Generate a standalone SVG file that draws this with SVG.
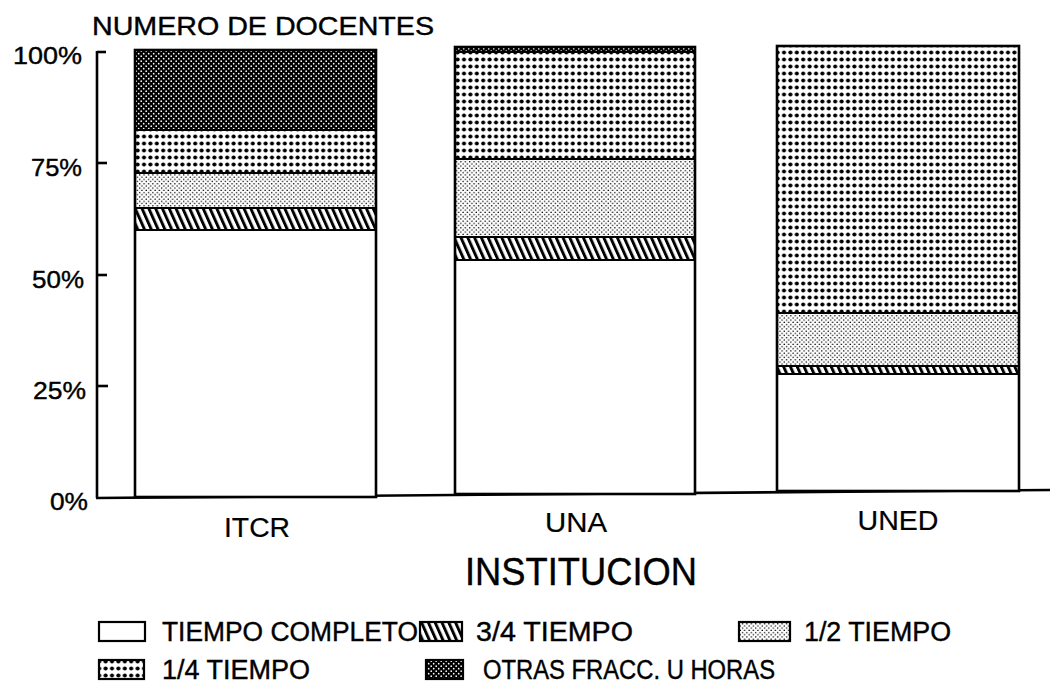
<svg xmlns="http://www.w3.org/2000/svg" width="1050" height="684" viewBox="0 0 1050 684">
<style>
.t{font-family:"Liberation Sans",Arial,sans-serif;fill:#000;stroke:#000;stroke-width:0.4}
.ax{font-size:24px}
.lab{font-size:27px;stroke-width:0.2}
.leg{font-size:27px}
.bar{stroke:#000;stroke-width:2.6}
.div{stroke:#000;stroke-width:2;fill:none}
.line{stroke:#000;stroke-width:2.6;fill:none}
</style>
<defs>
<pattern id="pOtras" width="5" height="5" patternUnits="userSpaceOnUse">
<rect width="5" height="5" fill="#000"/>
<circle cx="1.2" cy="1.2" r="0.85" fill="#fff"/>
<circle cx="3.7" cy="3.7" r="0.85" fill="#fff"/>
</pattern>
<pattern id="pCuarto" width="6.4" height="7" patternUnits="userSpaceOnUse">
<rect width="6.4" height="7" fill="#fff"/>
<circle cx="3.2" cy="3.5" r="2.05" fill="#000"/>
</pattern>
<pattern id="pMedio" width="4.4" height="4.4" patternUnits="userSpaceOnUse">
<rect width="4.4" height="4.4" fill="#fff"/>
<circle cx="1.1" cy="1.1" r="0.75" fill="#000"/>
<circle cx="3.3" cy="3.3" r="0.75" fill="#000"/>
</pattern>
<pattern id="pTres" width="6.8" height="30" patternUnits="userSpaceOnUse" patternTransform="skewX(24)">
<rect width="6.8" height="30" fill="#fff"/>
<rect width="3.2" height="30" fill="#000"/>
</pattern>
</defs>
<rect width="1050" height="684" fill="#fff"/>

<g id="title">
<text class="t" x="92" y="35" font-size="26" textLength="342" lengthAdjust="spacingAndGlyphs">NUMERO DE DOCENTES</text>
</g>

<g id="axes">
<line class="line" x1="97" y1="51" x2="97" y2="498"/>
<line class="line" x1="96" y1="498" x2="1050" y2="490"/>
<line class="line" x1="97" y1="52" x2="106" y2="52"/>
<line class="line" x1="97" y1="163" x2="107" y2="163"/>
<line class="line" x1="97" y1="275" x2="107" y2="275"/>
<line class="line" x1="97" y1="386" x2="108" y2="386"/>
<text class="t ax" x="13" y="64" textLength="69" lengthAdjust="spacingAndGlyphs">100%</text>
<text class="t ax" x="31" y="176" textLength="51" lengthAdjust="spacingAndGlyphs">75%</text>
<text class="t ax" x="32" y="288" textLength="52" lengthAdjust="spacingAndGlyphs">50%</text>
<text class="t ax" x="33" y="399" textLength="53" lengthAdjust="spacingAndGlyphs">25%</text>
<text class="t ax" x="50" y="510" textLength="38" lengthAdjust="spacingAndGlyphs">0%</text>
</g>

<g id="bar-itcr">
<rect x="135" y="230" width="241" height="267" fill="#fff"/>
<rect x="135" y="208" width="241" height="22" fill="url(#pTres)"/>
<rect x="135" y="173" width="241" height="35" fill="url(#pMedio)"/>
<rect x="135" y="130" width="241" height="43" fill="url(#pCuarto)"/>
<rect x="135" y="50" width="241" height="80" fill="url(#pOtras)"/>
<line class="div" x1="135" y1="130" x2="376" y2="130"/>
<line class="div" x1="135" y1="173" x2="376" y2="173"/>
<line class="div" x1="135" y1="208" x2="376" y2="208"/>
<line class="div" x1="135" y1="230" x2="376" y2="230"/>
<rect class="bar" x="135" y="50" width="241" height="447" fill="none"/>
<text class="t lab" x="257" y="537" text-anchor="middle" textLength="66" lengthAdjust="spacingAndGlyphs">ITCR</text>
</g>

<g id="bar-una">
<rect x="455" y="260" width="240" height="234" fill="#fff"/>
<rect x="455" y="237" width="240" height="23" fill="url(#pTres)"/>
<rect x="455" y="159" width="240" height="78" fill="url(#pMedio)"/>
<rect x="455" y="52" width="240" height="107" fill="url(#pCuarto)"/>
<rect x="455" y="47" width="240" height="5" fill="url(#pOtras)"/>
<line class="div" x1="455" y1="52" x2="695" y2="52"/>
<line class="div" x1="455" y1="159" x2="695" y2="159"/>
<line class="div" x1="455" y1="237" x2="695" y2="237"/>
<line class="div" x1="455" y1="260" x2="695" y2="260"/>
<rect class="bar" x="455" y="47" width="240" height="447" fill="none"/>
<text class="t lab" x="576" y="532" text-anchor="middle" textLength="62" lengthAdjust="spacingAndGlyphs">UNA</text>
</g>

<g id="bar-uned">
<rect x="777" y="374" width="242" height="117" fill="#fff"/>
<rect x="777" y="366" width="242" height="8" fill="url(#pTres)"/>
<rect x="777" y="313" width="242" height="53" fill="url(#pMedio)"/>
<rect x="777" y="46" width="242" height="267" fill="url(#pCuarto)"/>
<line class="div" x1="777" y1="313" x2="1019" y2="313"/>
<line class="div" x1="777" y1="366" x2="1019" y2="366"/>
<line class="div" x1="777" y1="374" x2="1019" y2="374"/>
<rect class="bar" x="777" y="46" width="242" height="445" fill="none"/>
<text class="t lab" x="898" y="530" text-anchor="middle" textLength="81" lengthAdjust="spacingAndGlyphs">UNED</text>
</g>

<g id="xlabel">
<text class="t" x="581" y="585" font-size="39" stroke-width="0.2" text-anchor="middle" textLength="232" lengthAdjust="spacingAndGlyphs">INSTITUCION</text>
</g>

<g id="legend">
<g id="leg-completo">
<rect x="99" y="622" width="46" height="19" fill="#fff" stroke="#000" stroke-width="2.2"/>
<text class="t leg" x="162" y="641" textLength="256" lengthAdjust="spacingAndGlyphs">TIEMPO COMPLETO</text>
</g>
<g id="leg-tres">
<rect x="420" y="622" width="42" height="19" fill="url(#pTres)" stroke="#000" stroke-width="2.2"/>
<text class="t leg" x="476" y="641" textLength="157" lengthAdjust="spacingAndGlyphs">3/4 TIEMPO</text>
</g>
<g id="leg-medio">
<rect x="739" y="622" width="51" height="19" fill="url(#pMedio)" stroke="#000" stroke-width="2.2"/>
<text class="t leg" x="804" y="641" textLength="147" lengthAdjust="spacingAndGlyphs">1/2 TIEMPO</text>
</g>
<g id="leg-cuarto">
<rect x="99" y="660" width="45" height="19" fill="url(#pCuarto)" stroke="#000" stroke-width="2.2"/>
<text class="t leg" x="162" y="679" textLength="148" lengthAdjust="spacingAndGlyphs">1/4 TIEMPO</text>
</g>
<g id="leg-otras">
<rect x="426" y="660" width="37" height="19" fill="url(#pOtras)" stroke="#000" stroke-width="2.2"/>
<text class="t leg" x="483" y="679" textLength="292" lengthAdjust="spacingAndGlyphs">OTRAS FRACC. U HORAS</text>
</g>
</g>
</svg>
